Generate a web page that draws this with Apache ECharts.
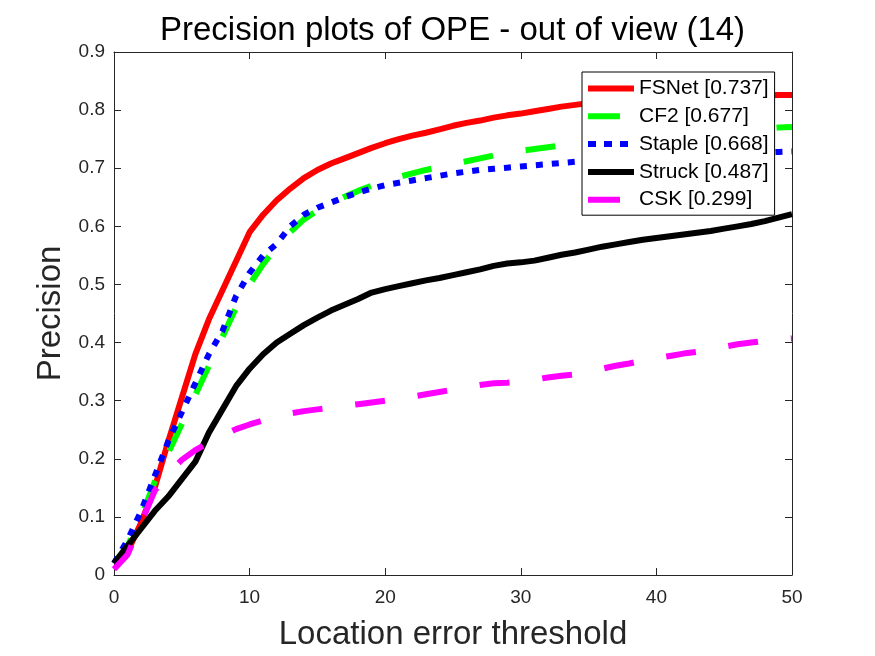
<!DOCTYPE html>
<html><head><meta charset="utf-8">
<script src="https://cdn.jsdelivr.net/npm/echarts@6/dist/echarts.min.js"></script>
<style>html,body{margin:0;padding:0;background:#fff}#c{width:875px;height:656px}</style>
</head><body><div id="c"></div>
<script>
const thresholds = Array.from({length: 51}, (_, i) => i);
const names = ['FSNet [0.737]', 'CF2 [0.677]', 'Staple [0.668]', 'Struck [0.487]', 'CSK [0.299]'];
const fsnet = [0.02,0.04,0.09,0.15,0.23,0.305,0.38,0.44,0.49,0.54,0.59,0.62,0.645,0.665,0.683,0.697,0.708,0.717,0.726,0.735,0.743,0.750,0.756,0.761,0.767,0.773,0.778,0.782,0.787,0.791,0.794,0.798,0.802,0.806,0.809,0.812,0.814,0.816,0.818,0.819,0.820,0.821,0.822,0.823,0.823,0.824,0.824,0.825,0.825,0.826,0.826];
const cf2 = [0.02,0.05,0.10,0.16,0.21,0.26,0.31,0.36,0.41,0.46,0.50,0.535,0.565,0.59,0.612,0.627,0.640,0.651,0.661,0.670,0.678,0.685,0.691,0.697,0.702,0.707,0.712,0.717,0.722,0.726,0.730,0.733,0.736,0.739,0.742,0.745,0.747,0.749,0.751,0.753,0.755,0.757,0.759,0.761,0.762,0.764,0.765,0.767,0.768,0.770,0.771];
const staple = [0.02,0.06,0.11,0.17,0.23,0.28,0.33,0.38,0.42,0.48,0.52,0.55,0.57,0.60,0.62,0.632,0.641,0.650,0.658,0.665,0.671,0.675,0.679,0.683,0.687,0.691,0.694,0.697,0.699,0.701,0.703,0.705,0.707,0.709,0.711,0.712,0.714,0.715,0.716,0.718,0.719,0.720,0.721,0.722,0.723,0.724,0.725,0.726,0.727,0.728,0.729];
const struck = [0.02,0.05,0.08,0.11,0.135,0.165,0.195,0.245,0.285,0.325,0.355,0.38,0.40,0.415,0.43,0.443,0.455,0.465,0.475,0.486,0.492,0.497,0.502,0.507,0.511,0.516,0.521,0.526,0.532,0.536,0.538,0.541,0.546,0.551,0.555,0.560,0.565,0.569,0.573,0.577,0.580,0.583,0.586,0.589,0.592,0.596,0.600,0.604,0.609,0.615,0.621];
const csk = [0.01,0.035,0.09,0.145,0.175,0.198,0.215,0.228,0.24,0.251,0.259,0.266,0.272,0.278,0.282,0.285,0.288,0.291,0.294,0.297,0.300,0.303,0.307,0.311,0.315,0.319,0.323,0.327,0.330,0.331,0.333,0.336,0.340,0.343,0.345,0.350,0.355,0.360,0.364,0.369,0.373,0.377,0.381,0.384,0.389,0.393,0.397,0.400,0.403,0.405,0.407];
const values = [fsnet, cf2, staple, struck, csk];
const colors = ['#ff0000', '#00ff00', '#0000ff', '#000000', '#ff00ff'];
const dashes = ['solid', [30, 33], [7, 9], 'solid', [30, 33]];
// legend line samples (solid / dashed / dotted)
const SOLID = 'path://M0 0H46V6H0Z';
const DASH = 'path://M0 0H32V6H0Z M46 0L46 6';
const DOT = 'path://M0 0H8V6H0Z M16 0H24V6H16Z M32 0H40V6H32Z M46 0L46 6';
const legendIcons = [SOLID, DASH, DOT, SOLID, DASH];

const FONT = 'Liberation Sans';
const AX = '#262626';
const chart = echarts.init(document.getElementById('c'), null, {renderer: 'canvas'});
const axisCommon = {
  type: 'value',
  axisLine: {show: true, onZero: false, lineStyle: {color: AX, width: 1}},
  axisTick: {show: true, inside: true, length: 7, lineStyle: {color: AX}},
  splitLine: {show: false}
};
chart.setOption({
  animation: false,
  backgroundColor: '#fff',
  title: {
    text: 'Precision plots of OPE - out of view (14)',
    left: 155, top: 9,
    textStyle: {fontFamily: FONT, fontSize: 33, fontWeight: 'normal', color: '#000'}
  },
  grid: {left: 114, right: 83, top: 52, bottom: 79},
  legend: {
    orient: 'vertical',
    left: 582, top: 72,
    padding: [6, 6, 5, 6],
    backgroundColor: '#fff',
    borderColor: '#000', borderWidth: 1, borderRadius: 0,
    itemWidth: 46, itemHeight: 14, itemGap: 6.8,
    itemStyle: {borderWidth: 0},
    textStyle: {fontFamily: FONT, fontSize: 21, lineHeight: 21, color: '#000'},
    data: names.map((n, i) => ({name: n, icon: legendIcons[i]}))
  },
  xAxis: [
    Object.assign({}, axisCommon, {
      min: 0, max: 50, interval: 10, position: 'bottom',
      name: 'Location error threshold', nameLocation: 'middle', nameGap: 43,
      nameTextStyle: {fontFamily: FONT, fontSize: 33, color: AX},
      axisLabel: {fontFamily: FONT, fontSize: 19, color: AX, margin: 13}
    }),
    Object.assign({}, axisCommon, {
      min: 0, max: 50, interval: 10, position: 'top', axisLabel: {show: false}
    })
  ],
  yAxis: [
    Object.assign({}, axisCommon, {
      min: 0, max: 0.9, interval: 0.1, position: 'left',
      name: 'Precision', nameLocation: 'middle', nameGap: 45,
      nameTextStyle: {fontFamily: FONT, fontSize: 33, color: AX},
      axisLabel: {fontFamily: FONT, fontSize: 19, color: AX, margin: 9,
        formatter: v => (Math.round(v * 10) / 10).toString()}
    }),
    Object.assign({}, axisCommon, {
      min: 0, max: 0.9, interval: 0.1, position: 'right', axisLabel: {show: false}
    })
  ],
  series: names.map((n, i) => ({
    name: n, type: 'line', xAxisIndex: 0, yAxisIndex: 0,
    data: thresholds.map((t, j) => [t, values[i][j]]),
    symbol: 'none', showSymbol: false, smooth: false,
    color: colors[i],
    itemStyle: {color: colors[i], borderWidth: 0},
    lineStyle: {color: colors[i], width: 6, type: dashes[i], cap: 'butt'},
    clip: true
  }))
});
</script></body></html>
